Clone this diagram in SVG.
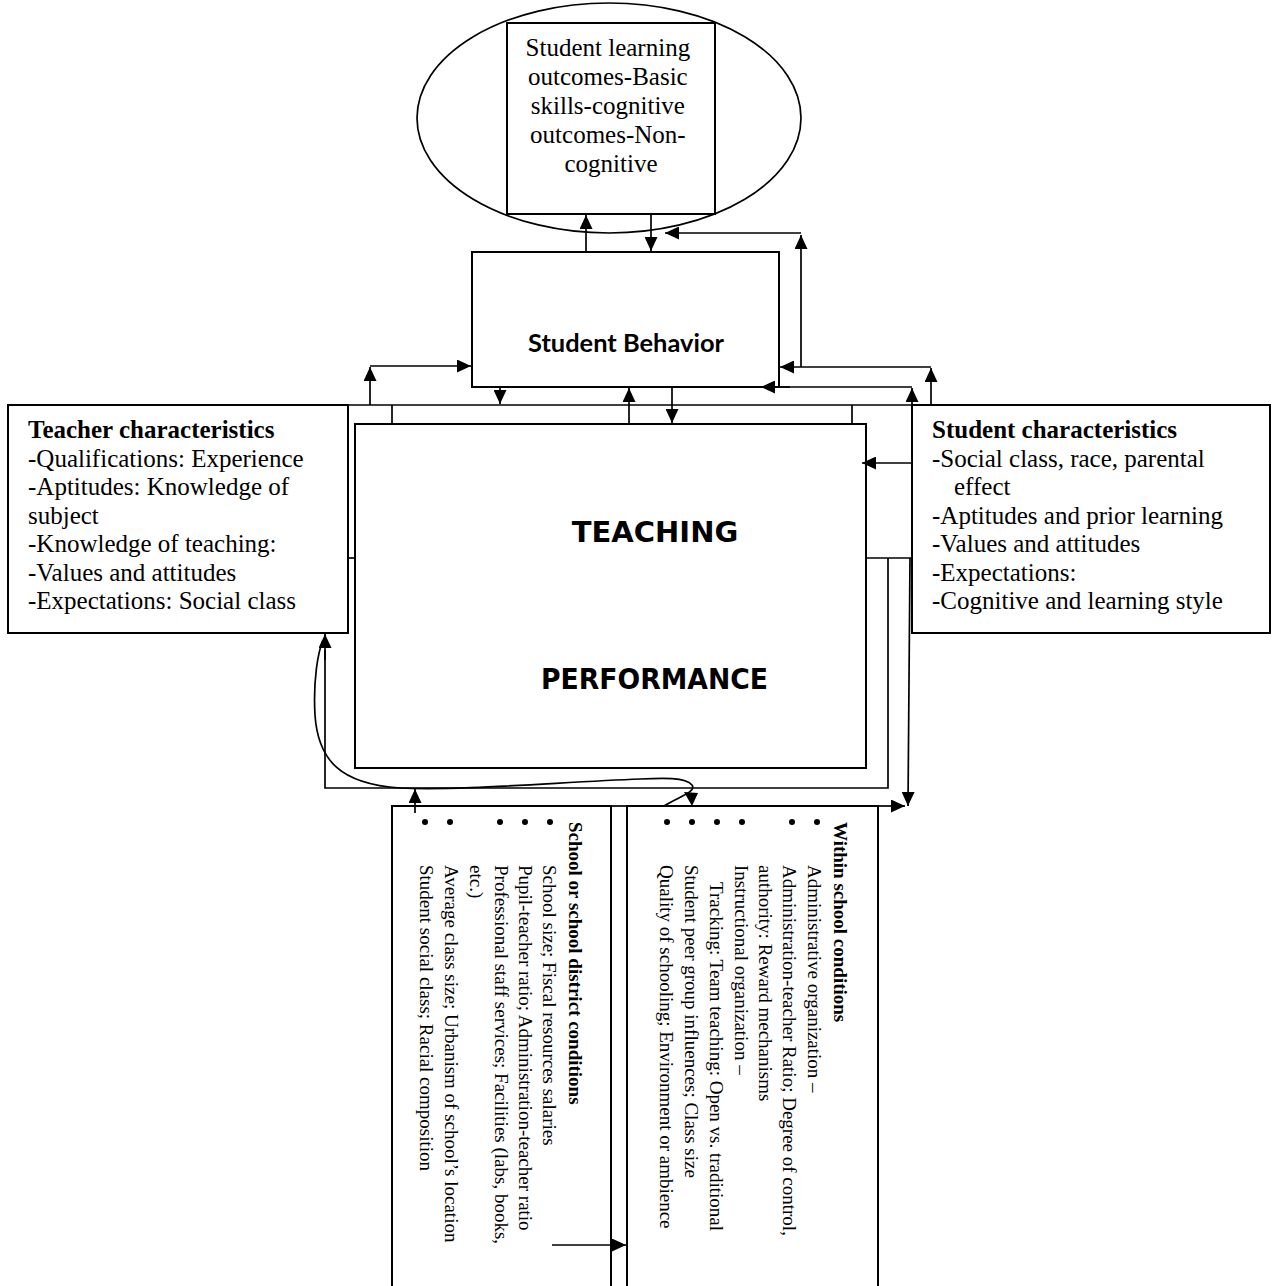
<svg xmlns="http://www.w3.org/2000/svg" width="1272" height="1286" viewBox="0 0 1272 1286">
<style>
.box{fill:#fff;stroke:#000;stroke-width:2}
.ln{fill:none;stroke:#000;stroke-width:1.7}
.ar{fill:none;stroke:#000;stroke-width:1.7;marker-end:url(#ah)}
.t25{font-family:"Liberation Serif","Times New Roman",serif;font-size:25px;fill:#000}
.t19{font-family:"Liberation Serif","Times New Roman",serif;font-size:19px;fill:#000}
.b{font-weight:bold}
.big{font-family:"DejaVu Sans",sans-serif;font-weight:bold;font-size:29px;fill:#000}
.sb{font-family:Lato,"Open Sans",sans-serif;font-weight:bold;font-size:25px;fill:#000}
.dot{fill:#000}
</style>
<defs>
<marker id="ah" viewBox="0 0 14 13" refX="14" refY="6.5" markerWidth="14" markerHeight="13" markerUnits="userSpaceOnUse" orient="auto">
<path d="M0,0 L14,6.5 L0,13 z" fill="#000"/>
</marker>
</defs>

<g id="outcomes">
<ellipse cx="609" cy="118" rx="192" ry="115" fill="#fff" stroke="#000" stroke-width="1.7"/>
<rect class="box" x="507" y="23" width="208" height="191"/>
<text class="t25" text-anchor="middle">
<tspan x="611" y="56">Student learning</tspan>
<tspan x="611" y="85">outcomes-Basic</tspan>
<tspan x="611" y="114">skills-cognitive</tspan>
<tspan x="611" y="143">outcomes-Non-</tspan>
<tspan x="611" y="172">cognitive</tspan>
</text>
</g>

<g id="student-behavior">
<rect class="box" x="472" y="252" width="307" height="135"/>
<text class="sb" x="626" y="352" text-anchor="middle" textLength="196" lengthAdjust="spacingAndGlyphs">Student Behavior</text>
</g>

<g id="teacher-characteristics">
<rect class="box" x="8" y="405" width="340" height="228"/>
<text class="t25">
<tspan class="b" x="28" y="438">Teacher characteristics</tspan>
<tspan x="28" y="467">-Qualifications: Experience</tspan>
<tspan x="28" y="495">-Aptitudes: Knowledge of</tspan>
<tspan x="28" y="524">subject</tspan>
<tspan x="28" y="552">-Knowledge of teaching:</tspan>
<tspan x="28" y="581">-Values and attitudes</tspan>
<tspan x="28" y="609">-Expectations: Social class</tspan>
</text>
</g>

<g id="student-characteristics">
<rect class="box" x="912" y="405" width="358" height="228"/>
<text class="t25">
<tspan class="b" x="932" y="438">Student characteristics</tspan>
<tspan x="932" y="467">-Social class, race, parental</tspan>
<tspan x="954" y="495">effect</tspan>
<tspan x="932" y="524">-Aptitudes and prior learning</tspan>
<tspan x="932" y="552">-Values and attitudes</tspan>
<tspan x="932" y="581">-Expectations:</tspan>
<tspan x="932" y="609">-Cognitive and learning style</tspan>
</text>
</g>

<g id="teaching-performance">
<rect class="box" x="355" y="424" width="511" height="344"/>
<text class="big" x="655" y="542" text-anchor="middle">TEACHING</text>
<text class="big" x="541" y="689" textLength="227" lengthAdjust="spacingAndGlyphs">PERFORMANCE</text>
</g>

<g id="school-district-conditions">
<rect class="box" x="392" y="806" width="219" height="490"/>
<circle class="dot" cx="550" cy="822" r="3"/>
<circle class="dot" cx="525" cy="822" r="3"/>
<circle class="dot" cx="500" cy="822" r="3"/>
<circle class="dot" cx="450" cy="822" r="3"/>
<circle class="dot" cx="425" cy="822" r="3"/>
<g transform="translate(611,806) rotate(90)">
<text class="t19">
<tspan class="b" x="16" y="42">School or school district conditions</tspan>
<tspan x="59" y="68">School size; Fiscal resources salaries</tspan>
<tspan x="59" y="92">Pupil-teacher ratio; Administration-teacher ratio</tspan>
<tspan x="59" y="116">Professional staff services; Facilities (labs, books,</tspan>
<tspan x="59" y="141">etc.)</tspan>
<tspan x="59" y="166">Average class size; Urbanism of school’s location</tspan>
<tspan x="59" y="191">Student social class; Racial composition</tspan>
</text>
</g>
</g>

<g id="within-school-conditions">
<rect class="box" x="627" y="806" width="251" height="490"/>
<circle class="dot" cx="817" cy="822" r="3"/>
<circle class="dot" cx="792" cy="822" r="3"/>
<circle class="dot" cx="742" cy="822" r="3"/>
<circle class="dot" cx="717" cy="822" r="3"/>
<circle class="dot" cx="692" cy="822" r="3"/>
<circle class="dot" cx="667" cy="822" r="3"/>
<g transform="translate(878,806) rotate(90)">
<text class="t19">
<tspan class="b" x="16" y="44">Within school conditions</tspan>
<tspan x="59" y="70">Administrative organization –</tspan>
<tspan x="59" y="95">Administration-teacher Ratio; Degree of control,</tspan>
<tspan x="59" y="119">authority: Reward mechanisms</tspan>
<tspan x="59" y="143">Instructional organization –</tspan>
<tspan x="76" y="168">Tracking: Team teaching: Open vs. traditional</tspan>
<tspan x="59" y="193">Student peer group influences; Class size</tspan>
<tspan x="59" y="218">Quality of schooling; Environment or ambience</tspan>
</text>
</g>
</g>

<g id="connectors">
<line class="ln" x1="348" y1="405" x2="912" y2="405"/>
<line class="ln" x1="392" y1="405" x2="392" y2="424"/>
<line class="ln" x1="852" y1="405" x2="852" y2="424"/>
<line class="ln" x1="348" y1="558" x2="355" y2="558"/>
<line class="ln" x1="866" y1="558" x2="912" y2="558"/>
<polyline class="ln" points="888,558 888,788 325,788 325,650"/>
<line class="ar" x1="325" y1="660" x2="325" y2="634"/>
<line class="ln" x1="611" y1="806" x2="627" y2="806"/>
<line class="ar" x1="586" y1="252" x2="586" y2="215"/>
<line class="ar" x1="651" y1="214" x2="651" y2="251"/>
<line class="ar" x1="931" y1="405" x2="931" y2="368"/>
<line class="ar" x1="931" y1="367" x2="780" y2="367"/>
<line class="ar" x1="801" y1="367" x2="801" y2="235"/>
<line class="ar" x1="801" y1="233" x2="665" y2="233"/>
<line class="ar" x1="912" y1="405" x2="912" y2="388"/>
<line class="ln" x1="912" y1="387" x2="779" y2="387"/>
<line class="ar" x1="790" y1="387" x2="761" y2="387"/>
<line class="ar" x1="370" y1="405" x2="370" y2="367"/>
<line class="ar" x1="370" y1="366" x2="471" y2="366"/>
<line class="ar" x1="500" y1="387" x2="500" y2="404"/>
<line class="ar" x1="629" y1="424" x2="629" y2="388"/>
<line class="ar" x1="672" y1="387" x2="672" y2="423"/>
<line class="ar" x1="911" y1="463" x2="862" y2="463"/>
<line class="ar" x1="910" y1="558" x2="908" y2="806"/>
<line class="ar" x1="878" y1="806" x2="905" y2="806"/>
<line class="ar" x1="415" y1="813" x2="415" y2="789"/>
<path class="ln" d="M664,806 C678,797 697,792 692,785 C686,777 662,778 640,779 C560,782 460,791 400,788 C340,784 318,760 315,715 C313,680 318,652 323,640"/>
<path d="M684,792 L698,793 L692,806 z" fill="#000"/>
<line class="ar" x1="552" y1="1245" x2="626" y2="1245"/>
</g>
</svg>
